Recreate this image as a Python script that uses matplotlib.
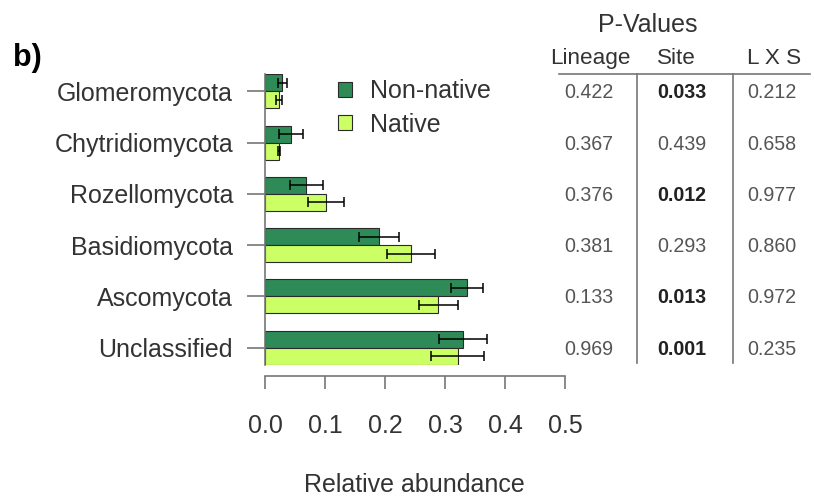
import matplotlib
matplotlib.use("Agg")
import matplotlib.pyplot as plt
import matplotlib.transforms as mtransforms
from matplotlib.lines import Line2D
import numpy as np

plt.rcParams["font.family"] = ["Liberation Sans", "DejaVu Sans"]

# ---- data -------------------------------------------------------------
phyla = ["Glomeromycota", "Chytridiomycota", "Rozellomycota",
         "Basidiomycota", "Ascomycota", "Unclassified"]
nonnative = [0.029, 0.043, 0.069, 0.190, 0.337, 0.330]
nonnative_se = [0.007, 0.020, 0.028, 0.033, 0.027, 0.040]
native = [0.024, 0.023, 0.101, 0.243, 0.289, 0.321]
native_se = [0.005, 0.002, 0.030, 0.040, 0.032, 0.044]

p_lineage = [0.422, 0.367, 0.376, 0.381, 0.133, 0.969]
p_site = [0.033, 0.439, 0.012, 0.293, 0.013, 0.001]
p_lxs = [0.212, 0.658, 0.977, 0.860, 0.972, 0.235]
p_headers = ["Lineage", "Site", "L X S"]

x_ticks = [0.0, 0.1, 0.2, 0.3, 0.4, 0.5]
x_ticklabels = ["0.0", "0.1", "0.2", "0.3", "0.4", "0.5"]

# ---- styling ----------------------------------------------------------
DARK = "#2E8B57"
LIGHT = "#CCFF66"
AXIS_GREY = "#777777"
TEXT = "#333333"

W, H = 814, 497
fig = plt.figure(figsize=(W / 100, H / 100), dpi=100)


def fx(px):
    return px / W


def fy(py):
    return 1 - py / H


ax = fig.add_axes([fx(265), fy(364.5), 300 / W, 290 / H])
bh = 0.332
pos = np.arange(len(phyla))
err_kw = dict(ecolor="black", elinewidth=1.1, capsize=3.5, capthick=1.1)
ax.barh(pos - bh / 2, nonnative, height=bh, color=DARK, edgecolor="#2a2a2a",
        linewidth=0.8, xerr=nonnative_se, error_kw=err_kw, label="Non-native")
ax.barh(pos + bh / 2, native, height=bh, color=LIGHT, edgecolor="#2a2a2a",
        linewidth=0.8, xerr=native_se, error_kw=err_kw, label="Native")

ax.set_xlim(0, 0.5)
ax.set_ylim(len(phyla) - 1 + bh, -bh)

for s in ("top", "right"):
    ax.spines[s].set_visible(False)
ax.spines["left"].set_color(AXIS_GREY)
ax.spines["left"].set_linewidth(1.2)
ax.spines["bottom"].set_color(AXIS_GREY)
ax.spines["bottom"].set_linewidth(1.2)
ax.spines["bottom"].set_position(("outward", 8.3))
ax.spines["bottom"].set_bounds(0, 0.5)

ax.set_xticks(x_ticks)
ax.set_xticklabels(x_ticklabels)
ax.set_yticks(pos)
ax.set_yticklabels(phyla)
ax.tick_params(axis="x", length=9.4, width=1.2, color=AXIS_GREY,
               labelsize=18, labelcolor=TEXT, pad=18)
ax.tick_params(axis="y", length=13, width=1.2, color=AXIS_GREY,
               labelsize=18, labelcolor=TEXT, pad=10)

fig.text(fx(414.5), fy(485), "Relative abundance", ha="center", va="center",
         fontsize=18, color=TEXT)
# axis title of the panel above, running off the top edge
fig.text(fx(413), fy(-0.6), "Relative abundance", ha="center", va="baseline",
         fontsize=18, color=TEXT)

fig.text(fx(13), fy(66), "b)", fontsize=22, fontweight="bold", va="baseline",
         color="black")

leg = ax.legend(loc="upper left", bbox_to_anchor=(fx(338), fy(79)),
                bbox_transform=fig.transFigure, frameon=False, fontsize=18,
                handlelength=0.55, handleheight=0.55, handletextpad=0.75,
                labelspacing=0.38, borderpad=0, borderaxespad=0)
for t in leg.get_texts():
    t.set_color(TEXT)

# ---- p-value table ----------------------------------------------------
row_trans = mtransforms.blended_transform_factory(fig.transFigure, ax.transData)
row_trans = mtransforms.offset_copy(row_trans, fig=fig, x=0, y=-7, units="dots")

col_x = [589, 682, 772]
head_x = [590.5, 676, 774]
fig.text(fx(648), fy(32), "P-Values", ha="center", va="baseline",
         fontsize=18, color=TEXT)
for hx, h in zip(head_x, p_headers):
    fig.text(fx(hx), fy(64), h, ha="center", va="baseline", fontsize=16.2,
             color=TEXT)

for cx, col in zip(col_x, [p_lineage, p_site, p_lxs]):
    for i, p in enumerate(col):
        sig = p < 0.05
        ax.text(fx(cx), i, f"{p:.3f}", transform=row_trans, ha="center",
                va="baseline", fontsize=14.1,
                fontweight="bold" if sig else "normal",
                color="#222222" if sig else "#555555")

line_kw = dict(color=AXIS_GREY, linewidth=1.2, transform=fig.transFigure)
fig.add_artist(Line2D([fx(559), fx(810)], [fy(74), fy(74)], **line_kw))
for vx in (637, 733):
    fig.add_artist(Line2D([fx(vx), fx(vx)], [fy(74), fy(363)], **line_kw))

fig.savefig("out.png", dpi=100)
